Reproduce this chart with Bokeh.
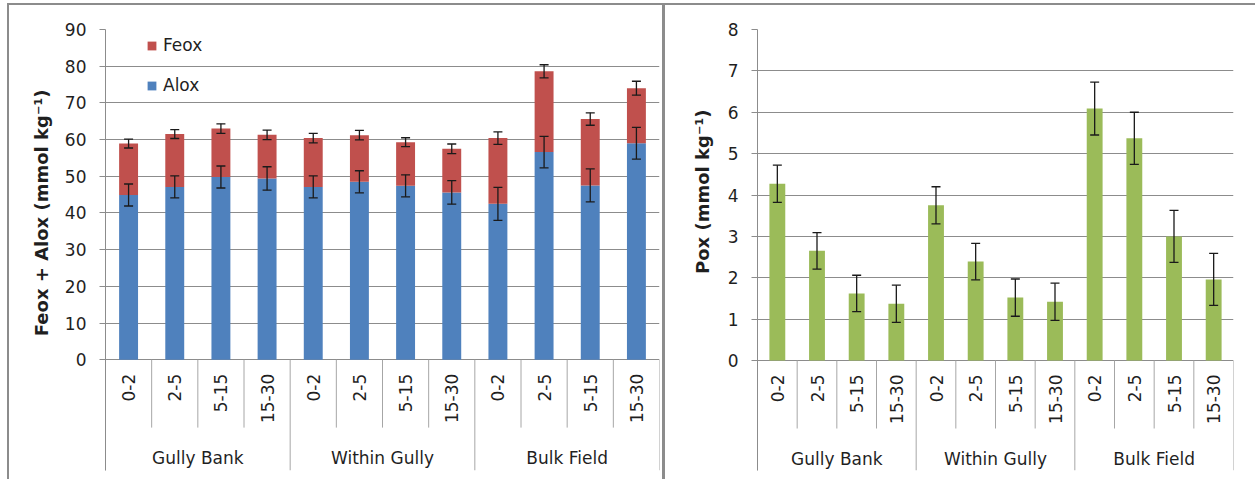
from math import pi

from bokeh.plotting import figure
from bokeh.layouts import row
from bokeh.models import (Range1d, FixedTicker, ColumnDataSource, Whisker, TeeHead,
                          Legend, LegendItem, Title)
from bokeh.core.properties import value
from bokeh.embed import file_html
from bokeh.resources import INLINE

# ---- data -------------------------------------------------------------
depths = ["0-2", "2-5", "5-15", "15-30"]
sites = ["Gully Bank", "Within Gully", "Bulk Field"]

alox = [44.9, 47.1, 49.8, 49.4, 47.1, 48.5, 47.4, 45.6, 42.5, 56.6, 47.5, 59.0]
feox = [14.0, 14.4, 13.2, 11.9, 13.3, 12.7, 11.9, 11.9, 17.9, 22.0, 18.1, 15.0]
alox_err = [3.0, 3.0, 3.0, 3.2, 3.0, 3.0, 3.0, 3.2, 4.5, 4.3, 4.5, 4.3]
feox_err = [1.2, 1.2, 1.3, 1.3, 1.3, 1.3, 1.2, 1.3, 1.7, 1.8, 1.7, 1.9]

pox = [4.27, 2.65, 1.62, 1.37, 3.75, 2.39, 1.52, 1.42, 6.09, 5.37, 3.00, 1.96]
pox_err = [0.45, 0.44, 0.44, 0.45, 0.45, 0.44, 0.45, 0.45, 0.64, 0.63, 0.63, 0.63]

# ---- styling ----------------------------------------------------------
H = 479
FONT = "DejaVu Sans"
TEXT = "#1f1f1f"
GRID = "#8c8c8c"
SEP = "#a6a6a6"
BORDER = "#8c8c8c"
BLUE = "#4F81BD"
RED = "#C0504D"
GREEN = "#9BBB59"
ERR = "#1a1a1a"
FS = "17px"
TITLE_FS = "18px"

n = len(depths) * len(sites)
xc = [i + 0.5 for i in range(n)]
sub_labels = depths * len(sites)
group_centers = [len(depths) * (g + 0.5) for g in range(len(sites))]
inner_sep = [i for i in range(1, n) if i % len(depths)]
group_sep = [g * len(depths) for g in range(len(sites) + 1)]


def panel(width, bl, br, bt, bb, ymax, ystep, zero_px, frame_css):
    """Figure whose frame also holds the category axis area below zero."""
    frame_h = H - bt - bb
    ppu = zero_px / ymax
    y_lo = -(frame_h - zero_px) / ppu
    p = figure(width=width, height=H, title=None,
               x_range=Range1d(0, n), y_range=Range1d(y_lo, ymax),
               output_backend="svg", toolbar_location=None,
               x_axis_location=None,
               min_border_left=bl, min_border_right=br,
               min_border_top=bt, min_border_bottom=bb,
               styles={"box-shadow": frame_css})
    p.outline_line_color = None
    p.background_fill_color = "white"
    p.border_fill_color = None

    ticks = list(range(0, ymax + 1, ystep))
    p.xgrid.visible = False
    p.ygrid.ticker = FixedTicker(ticks=ticks)
    p.ygrid.grid_line_color = GRID
    p.ygrid.grid_line_width = 1

    ax = p.yaxis[0]
    ax.ticker = FixedTicker(ticks=ticks)
    ax.axis_line_color = GRID
    ax.major_tick_line_color = GRID
    ax.major_tick_out = 6
    ax.major_tick_in = 0
    ax.minor_tick_line_color = None
    ax.major_label_text_font = FONT
    ax.major_label_text_font_size = FS
    ax.major_label_text_color = TEXT
    ax.major_label_standoff = 13

    # category separators below the zero line
    p.segment(x0=inner_sep, x1=inner_sep, y0=0, y1=-68 / ppu,
              line_color=SEP, line_width=1)
    p.segment(x0=group_sep, x1=group_sep, y0=0, y1=y_lo,
              line_color=SEP, line_width=1)

    # depth labels (rotated) and site labels
    p.text(x=xc, y=[-14 / ppu] * n, text=sub_labels, angle=pi / 2,
           text_align="right", text_baseline="middle",
           text_font=value(FONT), text_font_size=FS, text_color=TEXT)
    p.text(x=group_centers, y=[-98 / ppu] * len(sites), text=sites,
           text_align="center", text_baseline="middle",
           text_font=value(FONT), text_font_size=FS, text_color=TEXT)
    return p


def whisker(source, up, lo):
    return Whisker(source=source, base="x", upper=up, lower=lo, level="overlay",
                   line_color=ERR, line_width=1.3,
                   upper_head=TeeHead(size=9, line_color=ERR, line_width=1.3),
                   lower_head=TeeHead(size=9, line_color=ERR, line_width=1.3))


def axis_title(text, offset, standoff):
    return Title(text=text, align="right", offset=offset, standoff=standoff,
                 text_font=FONT, text_font_size=TITLE_FS, text_font_style="bold",
                 text_color=TEXT)


# chart-area border lines, painted behind the transparent canvas
css_left = ("inset 7px 0 0 0 #fff, inset 0 3px 0 0 #fff, "
            f"inset 9px 0 0 0 {BORDER}, inset 0 5px 0 0 {BORDER}, "
            f"inset -2px 0 0 0 {BORDER}")
css_right = (f"inset 0 3px 0 0 #fff, inset 1px 0 0 0 {BORDER}, "
             f"inset 0 5px 0 0 {BORDER}")

# ---- left chart: stacked Alox + Feox ---------------------------------
p1 = panel(664, 105, 5, 28, 9, 90, 10, 331, css_left)

total = [a + f for a, f in zip(alox, feox)]
src1 = ColumnDataSource(dict(
    x=xc, alox=alox, feox=feox, total=total,
    a_up=[a + e for a, e in zip(alox, alox_err)],
    a_lo=[a - e for a, e in zip(alox, alox_err)],
    t_up=[t + e for t, e in zip(total, feox_err)],
    t_lo=[t - e for t, e in zip(total, feox_err)],
))
r_alox = p1.vbar(x="x", bottom=0, top="alox", width=0.41, source=src1,
                 fill_color=BLUE, line_color=None)
r_feox = p1.vbar(x="x", bottom="alox", top="total", width=0.41, source=src1,
                 fill_color=RED, line_color=None)
p1.add_layout(whisker(src1, "a_up", "a_lo"))
p1.add_layout(whisker(src1, "t_up", "t_lo"))

legend = Legend(items=[LegendItem(label="Feox", renderers=[r_feox]),
                       LegendItem(label="Alox", renderers=[r_alox])],
                location=(41, 375), orientation="vertical",
                border_line_color=None, background_fill_alpha=0,
                padding=0, margin=0, spacing=20,
                glyph_width=11, glyph_height=11, label_standoff=6,
                label_text_font=FONT, label_text_font_size=FS,
                label_text_color=TEXT, label_height=20)
p1.add_layout(legend)
p1.add_layout(axis_title("Feox + Alox (mmol kg⁻¹)", 60, 20), "left")

# ---- right chart: Pox -------------------------------------------------
p2 = panel(591, 93, 22, 29, 9, 8, 1, 331, css_right)

src2 = ColumnDataSource(dict(
    x=xc, pox=pox,
    up=[v + e for v, e in zip(pox, pox_err)],
    lo=[v - e for v, e in zip(pox, pox_err)],
))
p2.vbar(x="x", bottom=0, top="pox", width=0.40, source=src2,
        fill_color=GREEN, line_color=None)
p2.add_layout(whisker(src2, "up", "lo"))
p2.add_layout(axis_title("Pox (mmol kg⁻¹)", 80, 24), "left")

layout = row(p1, p2)
open("out.html", "w").write(file_html(layout, INLINE))
